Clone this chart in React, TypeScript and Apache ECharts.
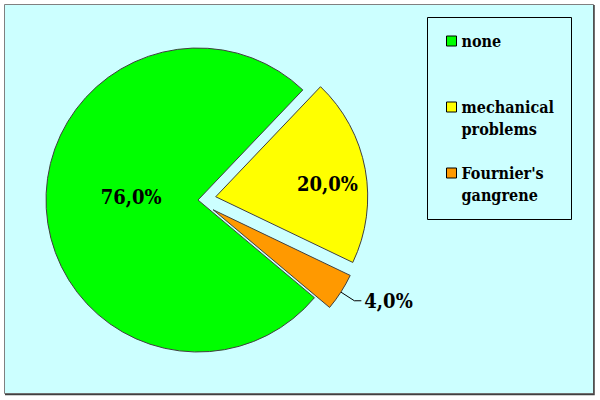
import React, { useEffect, useRef } from "react";
import * as echarts from "echarts";

const categories = ["none", "mechanical problems", "Fournier's gangrene"];
const values = [76, 20, 4];
const colors = ["#00FF00", "#FFFF00", "#FF9900"];
const legendLabels = ["\nnone\n", "\nmechanical\nproblems", "\nFournier's\ngangrene"];

const FONT = "DejaVu Serif Condensed";

export default function App() {
  const ref = useRef<HTMLDivElement>(null);
  useEffect(() => {
    if (!ref.current) return;
    const chart = echarts.init(ref.current, null, { renderer: "svg" });
    const labelShift: any[] = [{ dx: 12, dy: -7 }, { dx: 34, dy: 2 }, null];
    chart.setOption({
      animation: false,
      backgroundColor: "#FFFFFF",
      graphic: [
        {
          type: "rect",
          z: -10,
          silent: true,
          shape: { x: 4.5, y: 4.5, width: 589, height: 389 },
          style: { fill: "#CCFFFF", stroke: "#808080", lineWidth: 1 },
        },
        {
          type: "polyline",
          z: -9,
          silent: true,
          shape: { points: [[594, 5], [594, 394.5], [5, 394.5]] },
          style: { stroke: "#404040", lineWidth: 1.5, fill: null },
        },
        {
          type: "rect",
          z: -8,
          silent: true,
          shape: { x: 427.5, y: 17.5, width: 144, height: 202 },
          style: { fill: "none", stroke: "#000000", lineWidth: 1 },
        },
      ],
      legend: {
        orient: "vertical",
        left: 446,
        top: 8,
        padding: 0,
        itemGap: 0,
        itemWidth: 10,
        itemHeight: 10,
        selectedMode: false,
        icon: "rect",
        itemStyle: { borderColor: "#000000", borderWidth: 1 },
        formatter: (name: string) => legendLabels[categories.indexOf(name)],
        textStyle: {
          fontFamily: FONT,
          fontWeight: "bold",
          fontSize: 16,
          lineHeight: 22,
          color: "#000000",
        },
        data: categories,
      },
      series: [
        {
          type: "pie",
          center: [198, 200],
          radius: 152,
          startAngle: -40,
          clockwise: true,
          selectedMode: "multiple",
          selectedOffset: 18,
          avoidLabelOverlap: false,
          itemStyle: { borderColor: "#404040", borderWidth: 1 },
          emphasis: { disabled: true },
          label: {
            show: true,
            position: "inside",
            fontFamily: FONT,
            fontWeight: "bold",
            fontSize: 20,
            color: "#000000",
            formatter: (p: any) => p.value.toFixed(1).replace(".", ",") + "%",
          },
          labelLine: { show: false },
          labelLayout: (p: any) => labelShift[p.dataIndex] || {},
          data: categories.map((name, i) => {
            const item: any = {
              name,
              value: values[i],
              itemStyle: { color: colors[i] },
              selected: i > 0,
              select: {
                itemStyle: { color: colors[i], borderColor: "#404040", borderWidth: 1 },
              },
            };
            if (i === 2) {
              item.label = { position: "outside", distanceToLabelLine: 3 };
              item.labelLine = {
                show: true,
                length: 16,
                length2: 7,
                lineStyle: { color: "#000000", width: 1 },
              };
            }
            return item;
          }),
        },
      ],
    });
    return () => chart.dispose();
  }, []);
  return (
    <div
      ref={ref}
      style={{ position: "fixed", left: 0, top: 0, width: 600, height: 400 }}
    />
  );
}
